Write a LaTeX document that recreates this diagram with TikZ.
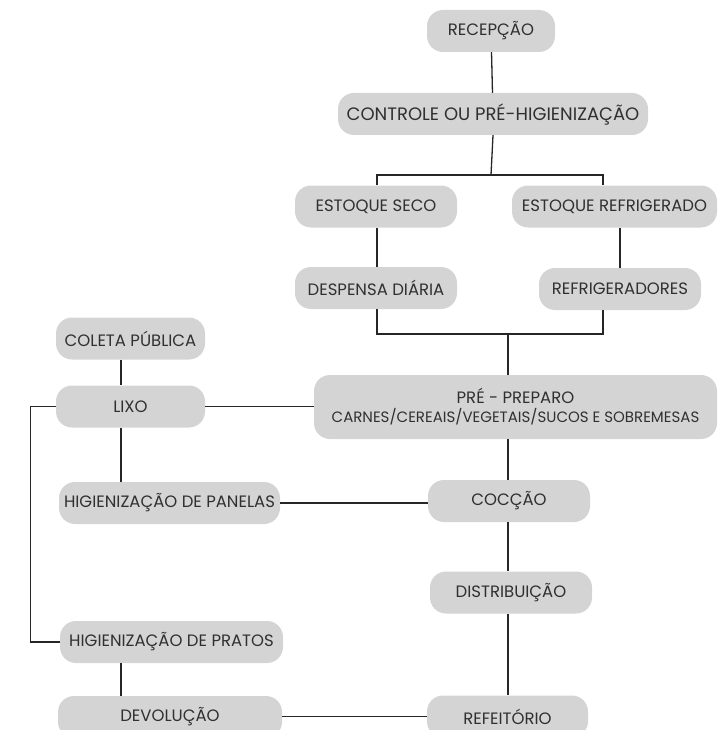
\documentclass[tikz,border=0pt]{standalone}
\usepackage{fontspec}
\setmainfont{Poppins}
\definecolor{caixa}{HTML}{D4D4D4}
\definecolor{texto}{HTML}{303030}
\tikzset{
  etapa/.style={fill=caixa, rounded corners=16pt, inner sep=0pt, text=texto,
    font=\fontsize{16.5}{20}\selectfont, minimum height=42pt},
  linha/.style={draw=black!85, line width=1.3pt}
}
\begin{document}
\begin{tikzpicture}[x=1pt,y=-1pt]
  \useasboundingbox (0,0) rectangle (725,730);

  % coluna da direita
  \node[etapa, minimum width=128pt] (recepcao) at (491,31) {RECEPÇÃO};
  \node[etapa, minimum width=310pt, font=\fontsize{18}{20}\selectfont] (controle) at (493,114) {CONTROLE OU PRÉ-HIGIENIZAÇÃO};

  \node[etapa, minimum width=162pt] (seco) at (376,206.5) {ESTOQUE SECO};
  \node[etapa, minimum width=205pt] (refrig) at (614.5,206.5) {ESTOQUE REFRIGERADO};

  \node[etapa, minimum width=162pt] (despensa) at (376,288) {DESPENSA DIÁRIA};
  \node[etapa, minimum width=162pt] (refrigeradores) at (620,289) {REFRIGERADORES};

  \node[etapa, minimum width=403pt, minimum height=64pt, align=center] (preparo) at (515.5,407)
    {PRÉ - PREPARO\\[-1pt] {\fontsize{15}{20}\selectfont CARNES/CEREAIS/VEGETAIS/SUCOS E SOBREMESAS}};

  \node[etapa, minimum width=162pt] (coccao) at (509,501) {COCÇÃO};
  \node[etapa, minimum width=162pt] (distrib) at (511,592.5) {DISTRIBUIÇÃO};
  \node[etapa, minimum width=161pt] (refeitorio) at (507.5,716.5) {REFEITÓRIO};

  % coluna da esquerda
  \node[etapa, minimum width=149pt] (coleta) at (130.5,338.5) {COLETA PÚBLICA};
  \node[etapa, minimum width=149pt] (lixo) at (130.5,406.5) {LIXO};
  \node[etapa, minimum width=221pt] (panelas) at (169.5,503) {HIGIENIZAÇÃO DE PANELAS};
  \node[etapa, minimum width=223pt] (pratos) at (171.5,642) {HIGIENIZAÇÃO DE PRATOS};
  \node[etapa, minimum width=224pt] (devolucao) at (170,717) {DEVOLUÇÃO};

  \coordinate (fork) at (491,175);
  \coordinate (merge) at (508,334);
  \coordinate (esq) at (121,0);

  % ligacoes
  \draw[linha] (recepcao) -- (controle);
  \draw[linha] (controle.south) -- (fork);
  \draw[linha] ([xshift=1pt]seco.north) |- (fork) -| ([xshift=-11.5pt]refrig.north);
  \draw[linha] ([xshift=1pt]seco.south) -- ([xshift=1pt]despensa.north);
  \draw[linha] (refrigeradores.north) -- (refrigeradores.north |- refrig.south);
  \draw[linha] ([xshift=1pt]despensa.south) |- (merge) -| ([xshift=-17pt]refrigeradores.south);
  \draw[linha] (merge) -- (merge |- preparo.north);

  \draw[linha] (preparo.south -| merge) -- (coccao.north -| merge);
  \draw[linha] (coccao.south -| merge) -- (distrib.north -| merge);
  \draw[linha] (distrib.south -| merge) -- (refeitorio.north -| merge);

  \draw[linha] (coleta.south -| esq) -- (lixo.north -| esq);
  \draw[linha] (lixo.east) -- (preparo.west |- lixo.east);
  \draw[linha] (lixo.south -| esq) -- (panelas.north -| esq);
  \draw[linha] (lixo.west) -- ++(-25,0) |- (pratos.west);
  \draw[linha] (panelas.east) -- (coccao.west |- panelas.east);
  \draw[linha] (pratos.south -| esq) -- (devolucao.north -| esq);
  \draw[linha] (devolucao.east |- refeitorio.west) -- (refeitorio.west);
\end{tikzpicture}
\end{document}
